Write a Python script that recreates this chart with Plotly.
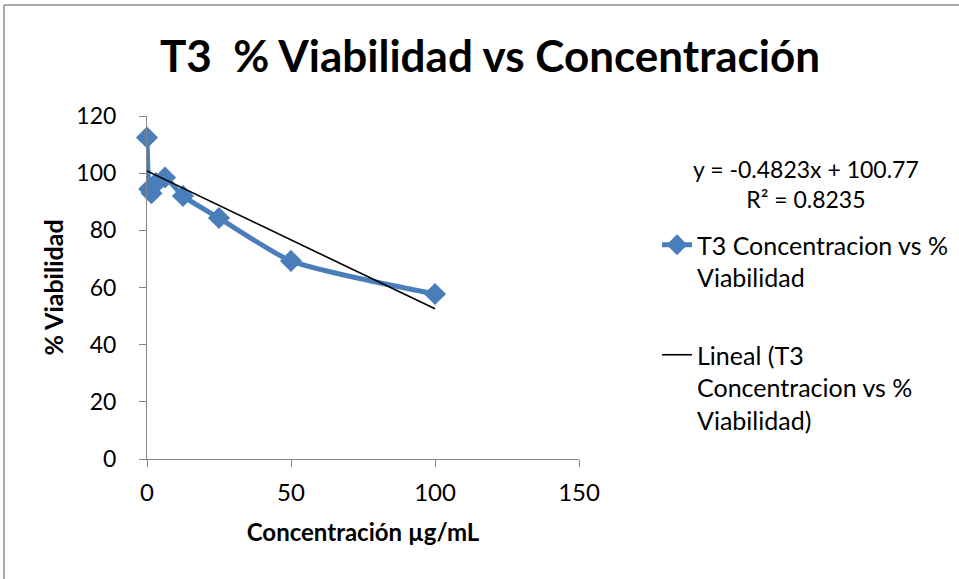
import plotly.graph_objects as go

# Viability data for T3 (concentration in µg/mL, viability in %)
concentracion = [0, 0.78, 1.56, 3.125, 6.25, 12.5, 25, 50, 100]
viabilidad = [112.5, 94.5, 93.0, 96.5, 98.5, 92.0, 84.3, 69.3, 57.7]

# Linear trendline coefficients (as reported on the chart)
pendiente = -0.4823
intercepto = 100.77
r2 = 0.8235
trend_x = [0, 100]
trend_y = [pendiente * x + intercepto for x in trend_x]

x_ticks = [0, 50, 100, 150]
y_ticks = [0, 20, 40, 60, 80, 100, 120]

W, H = 959, 579
L, R, T, B = 147, 579, 116, 459  # plot-area pixel box


def px_x(p):
    return (p - L) / (R - L)


def px_y(p):
    return (B - p) / (B - T)


FONT = "Lato"
BLUE = "#4A7EBB"
AXIS = "#868686"

fig = go.Figure()
fig.add_trace(go.Scatter(
    x=concentracion, y=viabilidad,
    mode="lines+markers",
    name="T3 Concentracion vs %<br>Viabilidad",
    line=dict(color=BLUE, width=5, shape="spline", smoothing=0.6),
    marker=dict(symbol="diamond", size=17, color=BLUE),
    cliponaxis=False,
    legendgroup="a",
))
fig.add_trace(go.Scatter(
    x=trend_x, y=trend_y,
    mode="lines",
    name="Lineal (T3<br>Concentracion vs %<br>Viabilidad)",
    line=dict(color="black", width=1.6),
    cliponaxis=False,
    legendgroup="b",
))

fig.update_layout(
    width=W, height=H,
    margin=dict(l=L, r=W - R, t=T, b=H - B, autoexpand=False),
    paper_bgcolor="white", plot_bgcolor="white",
    font=dict(family=FONT, size=22, color="black"),
    title=dict(
        text="<b>T3  % Viabilidad vs Concentración</b>",
        font=dict(family=FONT, size=44, color="black"),
        x=(160 + 820) / 2 / W, xanchor="center",
        y=1 - 57 / H, yanchor="middle",
    ),
    xaxis=dict(
        range=[0, 150], tickvals=x_ticks, showgrid=False, zeroline=False,
        showline=True, linecolor=AXIS, linewidth=1,
        ticks="outside", ticklen=7, tickcolor=AXIS,
        ticklabelstandoff=5, automargin=False,
        tickfont=dict(family=FONT, size=24),
        title=dict(text="<b>Concentración µg/mL</b>", font=dict(family=FONT, size=24), standoff=19),
    ),
    yaxis=dict(
        range=[0, 120], tickvals=y_ticks, showgrid=False, zeroline=False,
        showline=True, linecolor=AXIS, linewidth=1,
        ticks="outside", ticklen=7, tickcolor=AXIS,
        ticklabelstandoff=18, automargin=False,
        tickfont=dict(family=FONT, size=23),
        title=dict(text="<b>% Viabilidad</b>", font=dict(family=FONT, size=25), standoff=5),
    ),
    legend=dict(
        x=px_x(657), y=px_y(222), xanchor="left", yanchor="top",
        font=dict(family=FONT, size=25), traceorder="grouped",
        tracegroupgap=42, bgcolor="rgba(0,0,0,0)", valign="top",
    ),
    showlegend=True,
)

fig.add_annotation(
    xref="paper", yref="paper", x=px_x(806), y=px_y(184),
    text=f"y = {pendiente}x + {intercepto}<br>R² = {r2}",
    showarrow=False, align="center", xanchor="center", yanchor="middle",
    font=dict(family=FONT, size=23),
)

# Chart-area frame (top and left edges)
fig.add_shape(type="line", xref="paper", yref="paper",
              x0=px_x(4), x1=px_x(W), y0=px_y(5), y1=px_y(5),
              line=dict(color="#8C8C8C", width=1.5))
fig.add_shape(type="line", xref="paper", yref="paper",
              x0=px_x(4), x1=px_x(4), y0=px_y(5), y1=px_y(H),
              line=dict(color="#8C8C8C", width=1.5))

fig.write_html("out.html")
